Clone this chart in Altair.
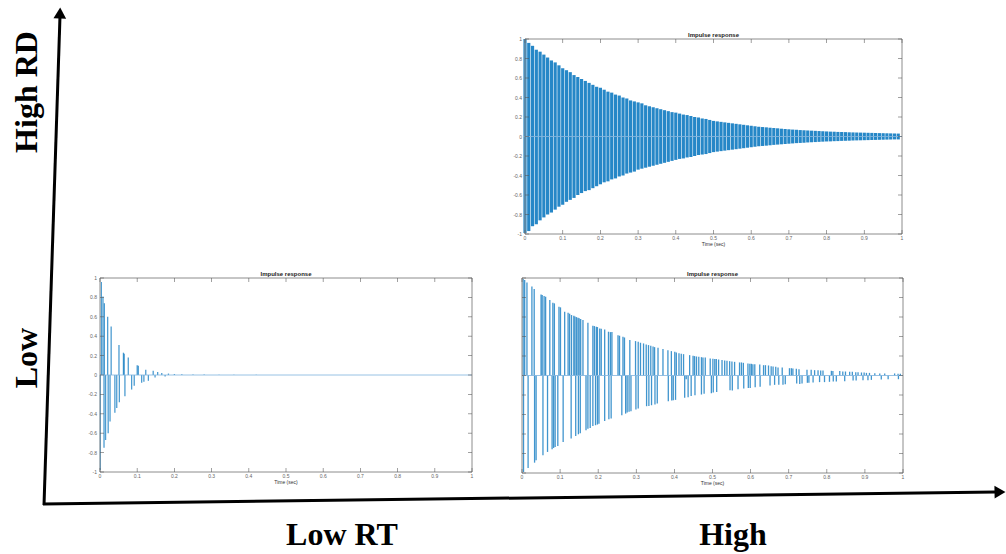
import altair as alt
import pandas as pd

# ---------------- data ----------------
AX_LABELS_Y = ["High RD", "Low"]
AX_LABELS_X = ["Low RT", "High"]
PANEL_TITLE = "Impulse response"
X_LABEL = "Time (sec)"

XLIM = [0, 1]
YLIM = [-1, 1]
X_TICKS = [0.0, 0.1, 0.2, 0.3, 0.4, 0.5, 0.6, 0.7, 0.8, 0.9, 1.0]
X_TICK_LABELS = ["0", "0.1", "0.2", "0.3", "0.4", "0.5", "0.6", "0.7", "0.8", "0.9", "1"]
Y_TICKS = [1.0, 0.8, 0.6, 0.4, 0.2, 0.0, -0.2, -0.4, -0.6, -0.8, -1.0]
Y_TICK_LABELS = ["1", "0.8", "0.6", "0.4", "0.2", "0", "-0.2", "-0.4", "-0.6", "-0.8", "-1"]

# top-right panel (high RT, high RD): dense impulse response, peaks per time slot
TR_T = [0.00, 0.01, 0.02, 0.03, 0.04, 0.05, 0.06, 0.07, 0.08, 0.09,
        0.10, 0.11, 0.12, 0.13, 0.14, 0.15, 0.16, 0.17, 0.18, 0.19,
        0.20, 0.21, 0.22, 0.23, 0.24, 0.25, 0.26, 0.27, 0.28, 0.29,
        0.30, 0.31, 0.32, 0.33, 0.34, 0.35, 0.36, 0.37, 0.38, 0.39,
        0.40, 0.41, 0.42, 0.43, 0.44, 0.45, 0.46, 0.47, 0.48, 0.49,
        0.50, 0.51, 0.52, 0.53, 0.54, 0.55, 0.56, 0.57, 0.58, 0.59,
        0.60, 0.61, 0.62, 0.63, 0.64, 0.65, 0.66, 0.67, 0.68, 0.69,
        0.70, 0.71, 0.72, 0.73, 0.74, 0.75, 0.76, 0.77, 0.78, 0.79,
        0.80, 0.81, 0.82, 0.83, 0.84, 0.85, 0.86, 0.87, 0.88, 0.89,
        0.90, 0.91, 0.92, 0.93, 0.94, 0.95, 0.96, 0.97, 0.98, 0.99]
TR_POS = [1.00, 0.96, 0.93, 0.89, 0.87, 0.84, 0.81, 0.78, 0.76, 0.73,
          0.70, 0.68, 0.66, 0.63, 0.61, 0.59, 0.57, 0.55, 0.53, 0.51,
          0.50, 0.48, 0.46, 0.45, 0.43, 0.42, 0.40, 0.39, 0.37, 0.36,
          0.35, 0.34, 0.32, 0.31, 0.30, 0.29, 0.28, 0.27, 0.26, 0.25,
          0.245, 0.235, 0.225, 0.22, 0.21, 0.20, 0.195, 0.185, 0.18, 0.17,
          0.16, 0.155, 0.15, 0.145, 0.14, 0.135, 0.13, 0.125, 0.12, 0.115,
          0.11, 0.105, 0.10, 0.097, 0.094, 0.09, 0.087, 0.084, 0.08, 0.077,
          0.074, 0.071, 0.069, 0.066, 0.064, 0.062, 0.06, 0.058, 0.056, 0.054,
          0.052, 0.05, 0.049, 0.047, 0.046, 0.045, 0.043, 0.042, 0.041, 0.04,
          0.039, 0.038, 0.037, 0.036, 0.035, 0.034, 0.033, 0.032, 0.031, 0.030]
TR_NEG = [-0.99, -0.97, -0.92, -0.90, -0.86, -0.83, -0.80, -0.78, -0.75, -0.72,
          -0.70, -0.67, -0.65, -0.63, -0.60, -0.58, -0.56, -0.55, -0.53, -0.51,
          -0.49, -0.47, -0.46, -0.44, -0.43, -0.41, -0.40, -0.38, -0.37, -0.36,
          -0.34, -0.33, -0.32, -0.31, -0.30, -0.29, -0.28, -0.27, -0.26, -0.25,
          -0.24, -0.23, -0.225, -0.215, -0.21, -0.20, -0.19, -0.185, -0.18, -0.17,
          -0.16, -0.155, -0.15, -0.145, -0.14, -0.135, -0.13, -0.125, -0.12, -0.115,
          -0.11, -0.105, -0.10, -0.097, -0.094, -0.09, -0.086, -0.083, -0.08, -0.077,
          -0.074, -0.071, -0.068, -0.066, -0.064, -0.061, -0.059, -0.057, -0.055, -0.053,
          -0.051, -0.05, -0.048, -0.047, -0.045, -0.044, -0.043, -0.041, -0.04, -0.039,
          -0.038, -0.037, -0.036, -0.035, -0.034, -0.033, -0.032, -0.031, -0.03, -0.03]

# bottom-left panel (low RT, low RD): sparse, fast-decaying reflections
BL_T = [0.001, 0.0036, 0.008, 0.0108, 0.0117, 0.015, 0.0206, 0.022, 0.027, 0.030,
        0.040, 0.045, 0.051, 0.052, 0.063, 0.065, 0.067, 0.076, 0.085, 0.092,
        0.100, 0.103, 0.112, 0.118, 0.123, 0.130, 0.143, 0.148, 0.155, 0.166,
        0.175, 0.184, 0.200, 0.220, 0.250, 0.280, 0.320, 0.360, 0.420]
BL_V = [-0.98, 0.96, 0.81, -0.75, 0.74, -0.67, 0.60, -0.60, -0.48, 0.50,
        -0.39, -0.34, 0.31, -0.28, 0.23, 0.22, -0.22, 0.18, -0.15, -0.11,
        0.10, 0.095, -0.08, -0.07, 0.055, -0.06, 0.045, -0.025, 0.03, 0.02,
        -0.015, 0.015, 0.01, 0.008, 0.005, 0.004, 0.003, 0.002, 0.002]

# bottom-right panel (high RT, low RD): sparse reflections, slow decay
BR_T = [0.003, 0.007, 0.013, 0.026, 0.032, 0.050, 0.053, 0.058, 0.062, 0.073,
        0.081, 0.085, 0.097, 0.101, 0.112, 0.121, 0.125, 0.130, 0.136, 0.139,
        0.143, 0.147, 0.150, 0.154, 0.160, 0.173, 0.186, 0.190, 0.195, 0.198,
        0.204, 0.208, 0.217, 0.227, 0.232, 0.236, 0.252, 0.256, 0.265, 0.269,
        0.283, 0.298, 0.305, 0.311, 0.319,
        0.004, 0.016, 0.033, 0.037, 0.055, 0.067, 0.079, 0.083, 0.087, 0.094,
        0.108, 0.129, 0.141, 0.148, 0.153, 0.168, 0.173, 0.179, 0.186, 0.193,
        0.198, 0.202, 0.217, 0.228, 0.234, 0.262, 0.272, 0.276, 0.281, 0.286,
        0.299, 0.305,
        0.326, 0.332, 0.338, 0.344, 0.348, 0.357, 0.370, 0.383, 0.392, 0.401,
        0.405, 0.412, 0.418, 0.424, 0.440, 0.449, 0.453, 0.458, 0.464, 0.471,
        0.475, 0.481, 0.494, 0.501, 0.506, 0.510, 0.516, 0.525, 0.532, 0.538,
        0.545, 0.551, 0.558, 0.571, 0.576, 0.581, 0.593, 0.598, 0.602, 0.606,
        0.611, 0.624, 0.634, 0.639, 0.647,
        0.327, 0.333, 0.340, 0.349, 0.355, 0.384, 0.393, 0.397, 0.403, 0.427,
        0.431, 0.436, 0.444, 0.454, 0.471, 0.478, 0.497, 0.502, 0.511, 0.546,
        0.552, 0.567, 0.582, 0.594, 0.599, 0.612, 0.625,
        0.654, 0.659, 0.666, 0.672, 0.683, 0.702, 0.707, 0.711, 0.720, 0.727,
        0.748, 0.759, 0.768, 0.777, 0.784, 0.790, 0.812, 0.816, 0.834, 0.842,
        0.849, 0.860, 0.867, 0.876, 0.882, 0.891, 0.898, 0.904, 0.912, 0.926,
        0.939, 0.952, 0.978, 0.987, 0.993,
        0.651, 0.663, 0.674, 0.685, 0.691, 0.721, 0.729, 0.735, 0.749, 0.753,
        0.764, 0.781, 0.794, 0.807, 0.817, 0.825, 0.847, 0.869, 0.877, 0.895,
        0.908, 0.917, 0.943, 0.961, 0.988]
BR_V = [0.99, 0.98, 0.955, 0.914, 0.887, 0.832, 0.825, 0.815, 0.808, 0.774,
        0.747, 0.740, 0.705, 0.699, 0.654, 0.644, 0.634, 0.620, 0.613, 0.606,
        0.599, 0.592, 0.586, 0.579, 0.568, 0.541, 0.510, 0.507, 0.500, 0.497,
        0.483, 0.479, 0.473, 0.449, 0.445, 0.445, 0.414, 0.408, 0.397, 0.390,
        0.363, 0.353, 0.346, 0.336, 0.329,
        -0.99, -0.949, -0.894, -0.870, -0.818, -0.784, -0.757, -0.743, -0.733, -0.723,
        -0.682, -0.647, -0.620, -0.603, -0.592, -0.562, -0.545, -0.538, -0.517, -0.510,
        -0.503, -0.496, -0.466, -0.449, -0.442, -0.408, -0.391, -0.380, -0.373, -0.366,
        -0.349, -0.339,
        0.318, 0.312, 0.305, 0.298, 0.291, 0.284, 0.271, 0.260, 0.250, 0.243,
        0.236, 0.229, 0.223, 0.219, 0.209, 0.202, 0.199, 0.195, 0.192, 0.188,
        0.185, 0.185, 0.175, 0.171, 0.168, 0.168, 0.164, 0.158, 0.154, 0.151,
        0.147, 0.144, 0.140, 0.134, 0.134, 0.130, 0.123, 0.120, 0.120, 0.116,
        0.116, 0.113, 0.106, 0.106, 0.103,
        -0.315, -0.312, -0.305, -0.298, -0.288, -0.264, -0.257, -0.253, -0.250, -0.229,
        -0.038, -0.223, -0.209, -0.202, -0.195, -0.188, -0.182, -0.175, -0.168, -0.151,
        -0.154, -0.140, -0.134, -0.127, -0.127, -0.120, -0.116,
        0.096, 0.092, 0.089, 0.082, 0.082, 0.075, 0.075, 0.072, 0.068, 0.065,
        0.058, 0.058, 0.055, 0.055, 0.051, 0.051, 0.048, 0.045, 0.045, 0.041,
        0.041, 0.038, 0.038, 0.034, 0.034, 0.031, 0.031, 0.027, 0.027, 0.024,
        0.021, 0.021, 0.021, 0.017, 0.017,
        -0.103, -0.096, -0.096, -0.096, -0.089, -0.082, -0.086, -0.082, -0.075, -0.075,
        -0.072, -0.068, -0.068, -0.065, -0.062, -0.062, -0.058, -0.051, -0.051, -0.048,
        -0.048, -0.045, -0.041, -0.038, -0.038]

# ---------------- layout (pixels) ----------------
W, H = 1006, 554
BOX_TR = (525, 902, 39, 234)   # left, right, top, bottom
BOX_BL = (100, 472, 278, 472)
BOX_BR = (522, 903, 278, 473)
BLUE = "#0072BD"
FRAME = "#8c8c8c"
LABEL_GRAY = "#666666"


def panel(bars_df, box, show_ylabels=True, bar_width=1.0, bar_opacity=0.8):
    left, right, top, bottom = box
    xs = alt.Scale(domain=XLIM, range=[left, right], nice=False, zero=False)
    ys = alt.Scale(domain=YLIM, range=[bottom, top], nice=False, zero=False)

    def X(f):
        return alt.X(f, type="quantitative", scale=xs, axis=None)

    def Y(f):
        return alt.Y(f, type="quantitative", scale=ys, axis=None)

    frame_df = pd.DataFrame({"x0": [XLIM[0]], "x1": [XLIM[1]], "y0": [YLIM[0]], "y1": [YLIM[1]],
                             "zero": [0.0], "xmid": [(XLIM[0] + XLIM[1]) / 2]})
    xt = pd.DataFrame({"v": X_TICKS, "lab": X_TICK_LABELS, "ylo": YLIM[0], "yhi": YLIM[1]})
    yt = pd.DataFrame({"v": Y_TICKS, "lab": Y_TICK_LABELS, "xlo": XLIM[0], "xhi": XLIM[1]})

    bars = alt.Chart(bars_df).mark_rule(color=BLUE, strokeWidth=bar_width, opacity=bar_opacity).encode(
        x=X("t"), y=Y("base"), y2=alt.Y2("v"))
    zero = alt.Chart(frame_df).mark_rule(color="#7fb2dd", strokeWidth=0.8).encode(
        x=X("x0"), x2=alt.X2("x1"), y=Y("zero"))
    frame = alt.Chart(frame_df).mark_rect(fill=None, stroke=FRAME, strokeWidth=1).encode(
        x=X("x0"), x2=alt.X2("x1"), y=Y("y0"), y2=alt.Y2("y1"))
    tick_b = alt.Chart(xt).mark_tick(orient="vertical", size=4, thickness=0.8, color="#555555", yOffset=-2).encode(
        x=X("v"), y=Y("ylo"))
    tick_t = alt.Chart(xt).mark_tick(orient="vertical", size=4, thickness=0.8, color="#555555", yOffset=2).encode(
        x=X("v"), y=Y("yhi"))
    tick_l = alt.Chart(yt).mark_tick(orient="horizontal", size=4, thickness=0.8, color="#555555", xOffset=2).encode(
        x=X("xlo"), y=Y("v"))
    tick_r = alt.Chart(yt).mark_tick(orient="horizontal", size=4, thickness=0.8, color="#555555", xOffset=-2).encode(
        x=X("xhi"), y=Y("v"))
    xlab = alt.Chart(xt).mark_text(fontSize=5, color=LABEL_GRAY, baseline="top", dy=2, font="Liberation Sans").encode(
        x=X("v"), y=Y("ylo"), text="lab:N")
    title = alt.Chart(frame_df).mark_text(fontSize=6, fontWeight="bold", color="#222222", baseline="bottom", dy=-1,
                                          font="Liberation Sans").encode(
        x=X("xmid"), y=Y("y1"), text=alt.value(PANEL_TITLE))
    xtitle = alt.Chart(frame_df).mark_text(fontSize=5, color="#333333", baseline="top", dy=8,
                                           font="Liberation Sans").encode(
        x=X("xmid"), y=Y("y0"), text=alt.value(X_LABEL))
    layers = [bars, zero, frame, tick_b, tick_t, tick_l, tick_r, xlab, title, xtitle]
    if show_ylabels:
        ylab = alt.Chart(yt).mark_text(fontSize=5, color=LABEL_GRAY, align="right", baseline="middle", dx=-3,
                                       font="Liberation Sans").encode(
            x=X("xlo"), y=Y("v"), text="lab:N")
        layers.append(ylab)
    return alt.layer(*layers)


tr_df = pd.DataFrame({"t": TR_T + TR_T, "v": TR_POS + TR_NEG})
tr_df["base"] = 0.0
bl_df = pd.DataFrame({"t": BL_T, "v": BL_V})
bl_df["base"] = 0.0
br_df = pd.DataFrame({"t": BR_T, "v": BR_V})
br_df["base"] = 0.0

p_tr = panel(tr_df, BOX_TR, True, bar_width=3.2, bar_opacity=0.85)
p_bl = panel(bl_df, BOX_BL, True, bar_width=1.3, bar_opacity=0.7)
p_br = panel(br_df, BOX_BR, False, bar_width=1.3, bar_opacity=0.75)

# ---------------- big arrows and labels ----------------
one = pd.DataFrame({"a": [0]})
arrow_v = alt.Chart(one).mark_rule(color="black", strokeWidth=3).encode(
    x=alt.value(44), y=alt.value(505), x2=alt.value(60), y2=alt.value(16))
head_v = alt.Chart(one).mark_point(shape="triangle-up", filled=True, color="black", opacity=1, size=160, angle=2).encode(
    x=alt.value(60), y=alt.value(13))
arrow_h = alt.Chart(one).mark_rule(color="black", strokeWidth=3).encode(
    x=alt.value(43), y=alt.value(504), x2=alt.value(996), y2=alt.value(492))
head_h = alt.Chart(one).mark_point(shape="triangle-right", filled=True, color="black", opacity=1, size=160,
                                   angle=359).encode(
    x=alt.value(1000), y=alt.value(492))

big = dict(font="Liberation Serif", fontWeight="bold", fontSize=32, color="black")
lab_high_rd = alt.Chart(one).mark_text(angle=270, align="center", baseline="middle", **big).encode(
    x=alt.value(27), y=alt.value(92), text=alt.value(AX_LABELS_Y[0]))
lab_low_y = alt.Chart(one).mark_text(angle=270, align="center", baseline="middle", **big).encode(
    x=alt.value(27), y=alt.value(358), text=alt.value(AX_LABELS_Y[1]))
lab_low_rt = alt.Chart(one).mark_text(align="center", baseline="alphabetic", **big).encode(
    x=alt.value(342), y=alt.value(545), text=alt.value(AX_LABELS_X[0]))
lab_high_x = alt.Chart(one).mark_text(align="center", baseline="alphabetic", **big).encode(
    x=alt.value(733), y=alt.value(545), text=alt.value(AX_LABELS_X[1]))

decor = alt.layer(arrow_v, arrow_h, head_v, head_h, lab_high_rd, lab_low_y, lab_low_rt, lab_high_x)

chart = alt.layer(p_tr, p_bl, p_br, decor).resolve_scale(
    x="independent", y="independent"
).properties(
    width=W, height=H, padding=0, autosize=alt.AutoSizeParams(type="none"), background="white"
).configure_view(stroke=None)

chart.save("out.html", embed_options={"renderer": "svg", "actions": False})
